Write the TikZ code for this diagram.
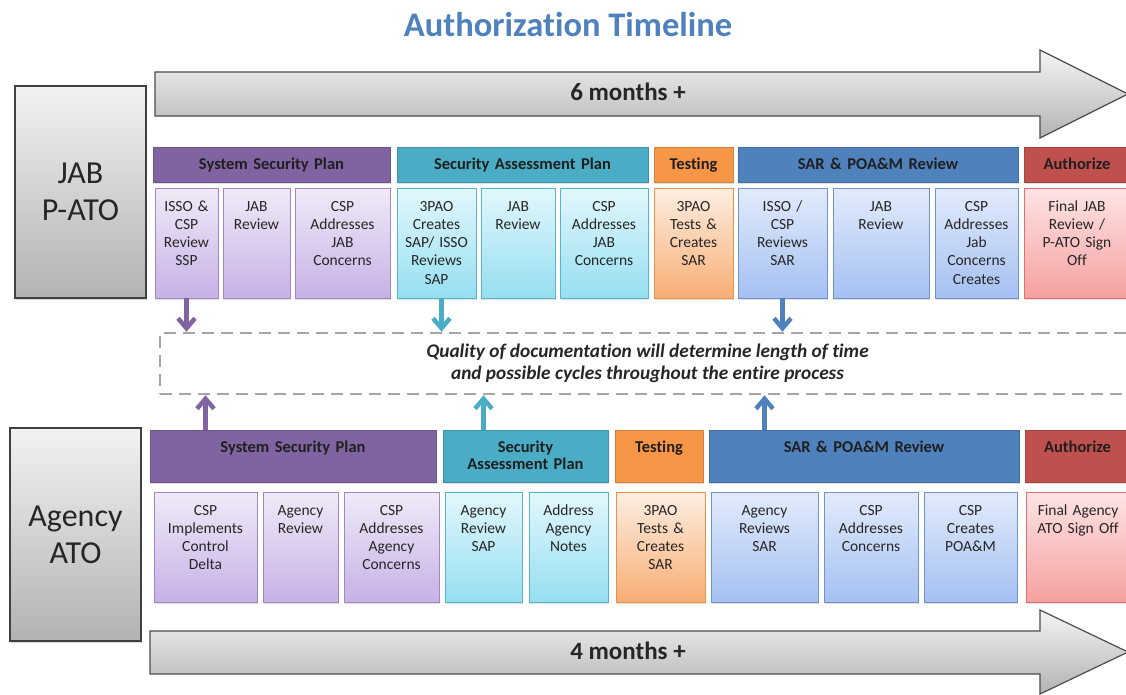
\documentclass[tikz,border=0pt]{standalone}
\usepackage{fontspec}
\setmainfont{Carlito}[Ligatures=NoCommon]
\usetikzlibrary{arrows.meta,shadows}

\definecolor{sspcol}{HTML}{8064A2}
\definecolor{sapcol}{HTML}{4BACC6}
\definecolor{testcol}{HTML}{F79646}
\definecolor{sarcol}{HTML}{4F81BD}
\definecolor{authcol}{HTML}{C0504D}
\definecolor{titlecol}{HTML}{4F81BD}
% task box gradients: top, bottom, border
\definecolor{sspA}{HTML}{F0EAF8}\definecolor{sspB}{HTML}{C7B1E6}\definecolor{sspC}{HTML}{9F87C4}
\definecolor{sapA}{HTML}{E3F7FC}\definecolor{sapB}{HTML}{95DFF1}\definecolor{sapC}{HTML}{58B5CD}
\definecolor{testA}{HTML}{FDEEE2}\definecolor{testB}{HTML}{F8AE74}\definecolor{testC}{HTML}{E8934D}
\definecolor{sarA}{HTML}{E2EBFB}\definecolor{sarB}{HTML}{A5C0F2}\definecolor{sarC}{HTML}{6F93CB}
\definecolor{authA}{HTML}{FEE4E4}\definecolor{authB}{HTML}{F6A0A0}\definecolor{authC}{HTML}{E07070}

\begin{document}
\begin{tikzpicture}[x=1pt,y=-1pt,
    every node/.style={font=\fontsize{15.5}{18.3}\selectfont, text=black!85},
    phase/.style={rectangle, fill=#1, draw=#1!85!black, align=center,
      inner xsep=2pt, inner ysep=5pt, text height=17pt, text depth=8pt,
      font=\fontsize{16.5}{17}\selectfont\bfseries, text=black!88,
      drop shadow={shadow xshift=1pt, shadow yshift=-1.5pt, opacity=.25}},
    task/.style={rectangle, top color=#1A, bottom color=#1B,
      draw=#1C, align=center, inner xsep=2pt, inner ysep=6pt,
      text height=17pt, text depth=81pt,
      drop shadow={shadow xshift=1pt, shadow yshift=-1.5pt, opacity=.25}},
    side/.style={rectangle, draw=black!75, line width=1.2pt, top color=black!5,
      bottom color=black!30, align=center,
      font=\fontsize{32}{37}\selectfont,
      drop shadow={shadow xshift=1pt, shadow yshift=-1.5pt, opacity=.3}},
    span/.style={draw=black!70, line width=1.2pt, top color=black!4,
      bottom color=black!30},
    flow/.style={line width=4.5pt, -{Straight Barb[length=10pt,width=17pt]}}]

  \useasboundingbox (0,0) rectangle (1126,694);

  \node[text=titlecol, font=\fontsize{34.5}{40}\selectfont\bfseries] (title) at (568,25)
    {Authorization Timeline};

  % timeline arrows
  \path[span] (155,72) -- (1040,72) -- (1040,50) -- (1128,94) -- (1040,138)
    -- (1040,116) -- (155,116) -- cycle;
  \node[font=\fontsize{25}{30}\selectfont\bfseries] (six) at (628,92) {6 months +};
  \path[span] (150,631) -- (1040,631) -- (1040,610) -- (1128,652) -- (1040,694)
    -- (1040,674) -- (150,674) -- cycle;
  \node[font=\fontsize{25}{30}\selectfont\bfseries] (four) at (628,651) {4 months +};

  \node[side, minimum width=131pt, minimum height=212pt] (jab) at (80.5,192) {JAB\\P-ATO};
  \node[side, minimum width=131pt, minimum height=213pt] (agency) at (75.5,534.5) {Agency\\ATO};

  % JAB P-ATO
  \node[phase=sspcol, text width=233pt] (hs1) at (271.5,164.5) {System Security Plan};
  \node[phase=sapcol, text width=247pt] (hs2) at (522.5,164.5) {Security Assessment Plan};
  \node[phase=testcol, text width=75pt] (hs3) at (693.5,164.5) {Testing};
  \node[phase=sarcol, text width=276pt] (hs4) at (878,164.5) {SAR \& POA\&M Review};
  \node[phase=authcol, text width=102pt] (hs5) at (1077,164.5) {Authorize};

  \node[task=ssp, text width=59pt] (t1) at (186.5,243) {ISSO \&\\CSP\\Review\\SSP};
  \node[task=ssp, text width=63pt] (t2) at (256.5,243) {JAB\\Review};
  \node[task=ssp, text width=91pt] (t3) at (342.5,243) {CSP\\Addresses\\JAB\\Concerns};
  \node[task=sap, text width=75pt] (t4) at (436.5,243) {3PAO\\Creates\\SAP/ ISSO\\Reviews\\SAP};
  \node[task=sap, text width=70pt] (t5) at (518,243) {JAB\\Review};
  \node[task=sap, text width=84pt] (t6) at (604,243) {CSP\\Addresses\\JAB\\Concerns};
  \node[task=test, text width=75pt] (t7) at (693.5,243) {3PAO\\Tests \&\\Creates\\SAR};
  \node[task=sar, text width=85pt] (t8) at (782.5,243) {ISSO /\\CSP\\Reviews\\SAR};
  \node[task=sar, text width=92pt] (t9) at (881,243) {JAB\\Review};
  \node[task=sar, text width=79pt] (t10) at (976.5,243) {CSP\\Addresses\\Jab\\Concerns\\Creates};
  \node[task=auth, text width=102pt] (t11) at (1077,243) {Final JAB\\Review /\\P-ATO Sign\\Off};

  \node[draw=black!35, dash pattern=on 12pt off 7pt, line width=2.5pt,
    minimum width=975pt, minimum height=61pt,
    font=\fontsize{19.3}{22}\selectfont\bfseries\itshape, align=center] (note) at (647.5,363.5)
    {Quality of documentation will determine length of time\\
     and possible cycles throughout the entire process};

  % Agency ATO
  \node[phase=sspcol, text width=282pt, text depth=25pt] (hb1) at (293,456) {System Security Plan};
  \node[phase=sapcol, text width=161pt, text depth=25pt] (hb2) at (525.5,456) {Security\\Assessment Plan};
  \node[phase=testcol, text width=84pt, text depth=25pt] (hb3) at (659,456) {Testing};
  \node[phase=sarcol, text width=306pt, text depth=25pt] (hb4) at (864,456) {SAR \& POA\&M Review};
  \node[phase=authcol, text width=101pt, text depth=25pt] (hb5) at (1077.5,456) {Authorize};

  \node[task=ssp, text width=99pt] (b1) at (205.5,547) {CSP\\Implements\\Control\\Delta};
  \node[task=ssp, text width=71pt] (b2) at (300.5,547) {Agency\\Review};
  \node[task=ssp, text width=91pt] (b3) at (391.5,547) {CSP\\Addresses\\Agency\\Concerns};
  \node[task=sap, text width=73pt] (b4) at (483.5,547) {Agency\\Review\\SAP};
  \node[task=sap, text width=75pt] (b5) at (568.5,547) {Address\\Agency\\Notes};
  \node[task=test, text width=85pt] (b6) at (660.5,547) {3PAO\\Tests \&\\Creates\\SAR};
  \node[task=sar, text width=103pt] (b7) at (764.5,547) {Agency\\Reviews\\SAR};
  \node[task=sar, text width=90pt] (b8) at (871,547) {CSP\\Addresses\\Concerns};
  \node[task=sar, text width=89pt] (b9) at (970.5,547) {CSP\\Creates\\POA\&M};
  \node[task=auth, text width=100pt] (b10) at (1078,547) {Final Agency\\ATO Sign Off};

  \draw[flow, sspcol] (t1.south) -- (t1.south |- note.north);
  \draw[flow, sapcol] ([xshift=5pt]t4.south) -- ([xshift=5pt]t4.south |- note.north);
  \draw[flow, sarcol] (t8.south) -- (t8.south |- note.north);
  \draw[flow, sspcol] (b1.north |- hb1.north) -- (b1.north |- note.south);
  \draw[flow, sapcol] (b4.north |- hb2.north) -- (b4.north |- note.south);
  \draw[flow, sarcol] (b7.north |- hb4.north) -- (b7.north |- note.south);
\end{tikzpicture}
\end{document}
